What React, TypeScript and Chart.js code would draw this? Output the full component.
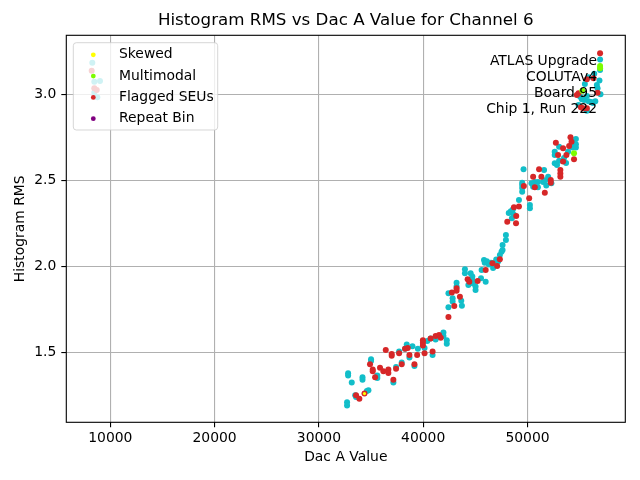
import React, { useEffect, useRef } from "react";
import { Chart, registerables } from "chart.js";

Chart.register(...registerables);

const titleText = "Histogram RMS vs Dac A Value for Channel 6";
const xLabel = "Dac A Value";
const yLabel = "Histogram RMS";
const infoLines = ["ATLAS Upgrade", "COLUTAv4", "Board 95", "Chip 1, Run 222"];

const xTicks = [10000, 20000, 30000, 40000, 50000];
const yTicks = [1.5, 2.0, 2.5, 3.0];
const xRange = [5781, 59377];
const yRange = [1.093, 3.343];

const normalX = [
  8274, 8466, 9012, 8754, 8466,
  32700, 32700, 32800, 32800, 33150, 33480, 33560, 34180, 34180, 34600, 34750, 35000, 35000, 35600, 35600,
  37140, 37400, 37690, 37940, 38260, 38420, 38680, 38970, 39160, 39490, 40130, 40390, 40710, 40900, 41190,
  41940, 41940, 42260, 42260,
  42420, 42420, 42820, 42820, 43200, 43200, 43650, 43710, 44000, 44000, 44330, 44550, 44710, 44700, 44800,
  45020, 45020, 45540, 45600, 45830, 45990, 45900, 46100, 46300, 46500, 46700, 46900, 47000, 47200, 47350,
  47510, 47610, 47610, 47930, 47930,
  48200, 48400, 48600, 48700, 48500, 49180, 49490, 49490, 49490, 49490, 49620, 50230, 50230, 50380, 50540,
  50700, 51000, 51000, 51590, 51500, 51700, 51800, 51980, 52290, 52610, 52830, 52610, 52610, 53030, 53030,
  53890, 54300, 54300, 54640, 54640, 54640, 53500, 53700,
  56960, 56960, 55850, 56650, 56720, 55050, 55210, 55430, 55690, 55850, 56100, 56270, 54890, 55690, 56500, 57000,
  56900, 56400, 55500,
];
const normalY = [
  3.184, 3.073, 3.077, 2.983, 3.01,
  1.21, 1.19, 1.378, 1.365, 1.325, 1.25, 1.24, 1.355, 1.34, 1.275, 1.28, 1.46, 1.45, 1.365, 1.35,
  1.325, 1.415, 1.505, 1.44, 1.52, 1.545, 1.47, 1.535, 1.42, 1.52, 1.525, 1.565, 1.58, 1.485, 1.575,
  1.615, 1.595, 1.57, 1.55,
  1.762, 1.843, 1.814, 1.795, 1.905, 1.882, 1.8, 1.77, 1.983, 1.959, 1.891, 1.96, 1.94, 1.92, 1.9,
  1.882, 1.862, 1.93, 1.978, 2.036, 1.91, 2.02, 2.03, 2.01, 2.02, 1.99, 2.02, 2.04, 2.03, 2.066,
  2.085, 2.095, 2.124, 2.182, 2.153,
  2.31, 2.32, 2.33, 2.3, 2.28, 2.385, 2.486, 2.473, 2.455, 2.434, 2.564, 2.356, 2.337, 2.483, 2.463,
  2.49, 2.49, 2.46, 2.56, 2.49, 2.5, 2.47, 2.52, 2.483, 2.599, 2.589, 2.666, 2.647, 2.695, 2.614,
  2.666, 2.72, 2.69, 2.74, 2.71, 2.69, 2.63, 2.6,
  3.203, 3.141, 3.099, 3.054, 3.035, 2.986, 2.971, 2.967, 2.99, 2.96, 2.955, 2.95, 2.938, 2.905, 2.96, 3.0,
  3.08, 3.12, 3.06,
];

const seuX = [
  8215, 8466, 8700,
  33560, 33880, 34370, 34900, 35160, 35160, 35390, 35860, 36180, 36660, 36660, 36410, 36980, 36980, 37140,
  37400, 37690, 37940, 38260, 38520, 38680, 39160, 39420, 39970, 39970, 39970, 40130, 40710, 40900, 41190,
  41520, 41680, 42420,
  42750, 42980, 43200, 43200, 43520, 44260, 44420, 45220, 45990, 46640, 47090, 47350, 48060, 48900,
  48700, 49180, 48920, 49650, 50160, 50540, 50700, 51110, 51330, 51660, 52230, 52230, 53150, 53150, 53150,
  52720, 52930, 53410, 53410, 53730, 53990, 54120, 54220, 54460,
  56960, 55690, 56330, 56720, 54890, 54730, 55120, 55320, 55690,
];
const seuY = [
  3.137, 3.035, 3.025,
  1.25, 1.23, 1.26, 1.43, 1.4, 1.39, 1.355, 1.41, 1.39, 1.4, 1.38, 1.513, 1.49, 1.48, 1.34,
  1.405, 1.495, 1.43, 1.52, 1.525, 1.485, 1.43, 1.485, 1.57, 1.555, 1.54, 1.495, 1.58, 1.505, 1.595,
  1.6, 1.585, 1.705,
  1.847, 1.769, 1.872, 1.858, 1.823, 1.924, 1.91, 1.915, 1.978, 2.017, 2.002, 2.041, 2.259, 2.25,
  2.343, 2.347, 2.292, 2.467, 2.395, 2.521, 2.459, 2.564, 2.521, 2.428, 2.502, 2.486, 2.56, 2.54, 2.52,
  2.719, 2.647, 2.61, 2.686, 2.647, 2.7, 2.75, 2.724, 2.622,
  3.238, 3.087, 3.093, 3.009, 3.006, 2.996, 2.924, 2.919, 2.919,
];

const multiX = [54460, 56960, 56960, 55260];
const multiY = [2.657, 3.165, 3.151, 3.02];

const skewX = [34370];
const skewY = [1.26];

const repeatX: number[] = [];
const repeatY: number[] = [];

const FONT = '"DejaVu Sans", "Liberation Sans", sans-serif';

const pts = (xs: number[], ys: number[]) => xs.map((x, i) => ({ x, y: ys[i] }));

const decorPlugin = {
  id: "decor",
  afterDraw(chart: any) {
    const { ctx, chartArea: a } = chart;
    ctx.save();
    ctx.strokeStyle = "#000";
    ctx.lineWidth = 1.1;
    ctx.strokeRect(a.left, a.top, a.right - a.left, a.bottom - a.top);

    ctx.fillStyle = "#000";
    ctx.textAlign = "center";
    ctx.textBaseline = "middle";
    const cx = (a.left + a.right) / 2;
    ctx.font = `16.7px ${FONT}`;
    ctx.fillText(titleText, cx, 21);
    ctx.font = `13.9px ${FONT}`;
    ctx.fillText(xLabel, cx, 457);
    ctx.save();
    ctx.translate(20, (a.top + a.bottom) / 2);
    ctx.rotate(-Math.PI / 2);
    ctx.fillText(yLabel, 0, 0);
    ctx.restore();

    ctx.textAlign = "right";
    infoLines.forEach((l, i) => ctx.fillText(l, 597, 61 + i * 16));

    const bx = 73.3, by = 42.7, bw = 144.4, bh = 87.3, r = 3;
    ctx.beginPath();
    ctx.moveTo(bx + r, by);
    ctx.lineTo(bx + bw - r, by);
    ctx.arcTo(bx + bw, by, bx + bw, by + r, r);
    ctx.lineTo(bx + bw, by + bh - r);
    ctx.arcTo(bx + bw, by + bh, bx + bw - r, by + bh, r);
    ctx.lineTo(bx + r, by + bh);
    ctx.arcTo(bx, by + bh, bx, by + bh - r, r);
    ctx.lineTo(bx, by + r);
    ctx.arcTo(bx, by, bx + r, by, r);
    ctx.closePath();
    ctx.fillStyle = "rgba(255,255,255,0.8)";
    ctx.fill();
    ctx.strokeStyle = "rgba(204,204,204,0.8)";
    ctx.lineWidth = 1;
    ctx.stroke();

    const entries = chart.data.datasets.filter((d: any) => d.showInLegend);
    entries.forEach((d: any, i: number) => {
      const y = 54.8 + i * 21.3;
      ctx.beginPath();
      ctx.arc(93.3, y, 2.4, 0, Math.PI * 2);
      ctx.fillStyle = d.backgroundColor;
      ctx.fill();
      ctx.fillStyle = "#000";
      ctx.textAlign = "left";
      ctx.fillText(d.label, 119, y);
    });
    ctx.restore();
  },
};

export default function App() {
  const ref = useRef<HTMLCanvasElement | null>(null);
  useEffect(() => {
    if (!ref.current) return;
    const mk = (label: string, xs: number[], ys: number[], color: string, order: number, radius: number, legend: boolean) => ({
      label,
      data: pts(xs, ys),
      backgroundColor: color,
      borderColor: color,
      pointRadius: radius,
      pointBorderWidth: 0,
      pointHoverRadius: radius,
      order,
      showInLegend: legend,
    });
    const chart = new Chart(ref.current, {
      type: "scatter",
      data: {
        datasets: [
          mk("Skewed", skewX, skewY, "#ffff00", 1, 1.6, true),
          mk("Multimodal", multiX, multiY, "#7cfc00", 2, 3, true),
          mk("Flagged SEUs", seuX, seuY, "#d62728", 3, 3, true),
          mk("Repeat Bin", repeatX, repeatY, "#800080", 4, 3, true),
          mk("Normal", normalX, normalY, "#12bec9", 5, 3, false),
        ] as any,
      },
      options: {
        animation: false,
        responsive: false,
        maintainAspectRatio: false,
        devicePixelRatio: 1,
        layout: { padding: { top: 35.3, right: 14.7, left: 0, bottom: 0 } },
        plugins: {
          legend: { display: false },
          tooltip: { enabled: false },
          title: { display: false },
        },
        scales: {
          x: {
            type: "linear",
            min: xRange[0],
            max: xRange[1],
            afterBuildTicks: (s: any) => {
              s.ticks = xTicks.map((v) => ({ value: v }));
            },
            afterFit: (s: any) => {
              s.height = 57.7;
            },
            ticks: {
              color: "#000",
              font: { family: FONT, size: 13.9 },
              padding: 3,
              maxRotation: 0,
              autoSkip: false,
              callback: (v: any) => String(v),
            },
            grid: {
              color: "#b0b0b0",
              lineWidth: 1.1,
              drawTicks: true,
              tickLength: 5,
              tickColor: "#000",
              tickWidth: 1.1,
            },
            border: { display: false },
          },
          y: {
            type: "linear",
            min: yRange[0],
            max: yRange[1],
            afterBuildTicks: (s: any) => {
              s.ticks = yTicks.map((v) => ({ value: v }));
            },
            afterFit: (s: any) => {
              s.width = 66.3;
            },
            ticks: {
              color: "#000",
              font: { family: FONT, size: 13.9 },
              padding: 5,
              autoSkip: false,
              callback: (v: any) => Number(v).toFixed(1),
            },
            grid: {
              color: "#b0b0b0",
              lineWidth: 1.1,
              drawTicks: true,
              tickLength: 5,
              tickColor: "#000",
              tickWidth: 1.1,
            },
            border: { display: false },
          },
        },
      } as any,
      plugins: [decorPlugin],
    });
    return () => chart.destroy();
  }, []);
  return (
    <div style={{ position: "absolute", left: 0, top: 0, width: 640, height: 480, background: "#fff" }}>
      <canvas ref={ref} width={640} height={480} style={{ width: 640, height: 480, display: "block" }} />
    </div>
  );
}
